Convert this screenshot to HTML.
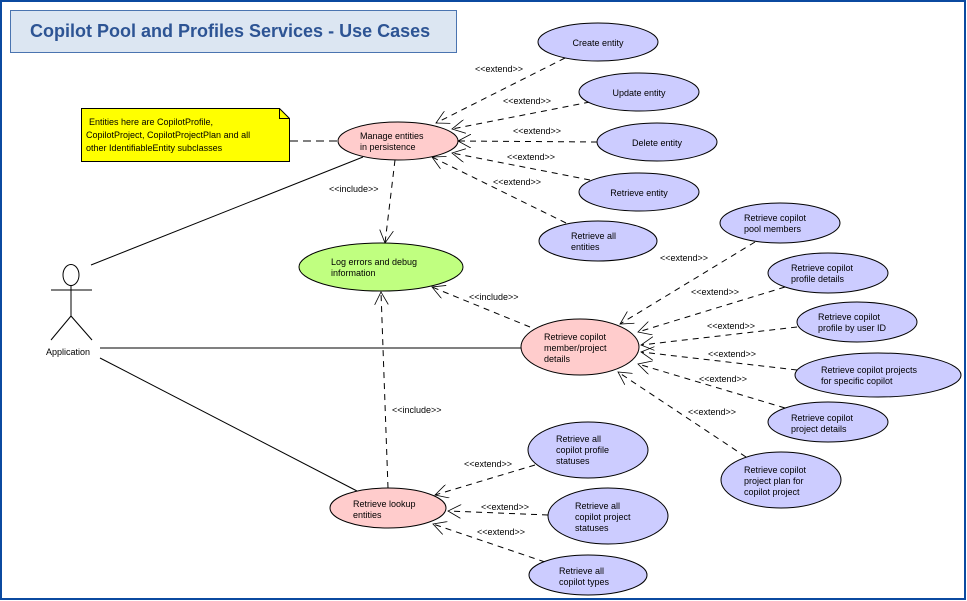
<!DOCTYPE html>
<html><head><meta charset="utf-8"><style>
html,body{margin:0;padding:0;background:#fff}
svg{display:block}
text{font-family:"Liberation Sans",sans-serif;font-size:9px;fill:#000}
</style></head><body>
<svg width="967" height="601" viewBox="0 0 967 601" xmlns="http://www.w3.org/2000/svg">
<defs>
<marker id="a" markerWidth="14" markerHeight="14" refX="13" refY="7" orient="auto" markerUnits="userSpaceOnUse">
<path d="M0,0 L13,7 L0,14" fill="none" stroke="#000" stroke-width="0.8"/>
</marker>
</defs>
<rect x="0" y="0" width="967" height="601" fill="#fff"/>
<rect x="1" y="1" width="964" height="598" fill="none" stroke="#0b4aa0" stroke-width="2"/>
<rect x="10.5" y="10.5" width="446" height="42" fill="#dce6f2" stroke="#4a74b0"/>
<text x="30" y="37" style="font-size:18px;font-weight:bold;fill:#2d5494">Copilot Pool and Profiles Services - Use Cases</text>

<!-- note -->
<path d="M81.5,108.5 H279.5 L289.5,118.5 V161.5 H81.5 Z" fill="#ffff00" stroke="#000"/>
<path d="M279.5,108.5 V118.5 H289.5" fill="none" stroke="#000"/>
<text x="89" y="125">Entities here are CopilotProfile,</text>
<text x="86" y="138">CopilotProject, CopilotProjectPlan and all</text>
<text x="86" y="151">other IdentifiableEntity subclasses</text>
<line x1="290" y1="141" x2="339" y2="141" stroke="#000" stroke-dasharray="8,5"/>

<g stroke="#000" fill="none">
<!-- actor -->
<ellipse cx="71" cy="275" rx="8" ry="10.5" fill="#fff"/>
<line x1="51" y1="290" x2="92" y2="290"/>
<line x1="71" y1="286" x2="71" y2="316"/>
<line x1="71" y1="316" x2="51" y2="340"/>
<line x1="71" y1="316" x2="92" y2="340"/>
<!-- associations -->
<line x1="91" y1="265" x2="363" y2="157"/>
<line x1="100" y1="348" x2="521" y2="348"/>
<line x1="100" y1="358" x2="357" y2="491"/>

<g stroke-dasharray="6,5" marker-end="url(#a)">
<!-- includes -->
<line x1="395" y1="160" x2="385" y2="243"/>
<line x1="530" y1="327" x2="432" y2="287"/>
<line x1="388" y1="488" x2="381" y2="292"/>
<!-- manage extends -->
<line x1="565" y1="58" x2="436" y2="123"/>
<line x1="590" y1="102" x2="452" y2="129"/>
<line x1="597" y1="142" x2="458" y2="141"/>
<line x1="590" y1="180" x2="452" y2="153"/>
<line x1="566" y1="223" x2="432" y2="157"/>
<!-- member extends -->
<line x1="755" y1="242" x2="620" y2="324"/>
<line x1="785" y1="287" x2="638" y2="332"/>
<line x1="797" y1="327" x2="641" y2="345"/>
<line x1="797" y1="370" x2="641" y2="352"/>
<line x1="785" y1="408" x2="638" y2="364"/>
<line x1="746" y1="457" x2="618" y2="372"/>
<!-- lookup extends -->
<line x1="535" y1="465" x2="435" y2="495"/>
<line x1="548" y1="515" x2="448" y2="511"/>
<line x1="545" y1="562" x2="433" y2="524"/>
</g>
</g>

<!-- pink ellipses -->
<g stroke="#000" fill="#ffcccc">
<ellipse cx="398" cy="141" rx="60" ry="19"/>
<ellipse cx="580" cy="347" rx="59" ry="28"/>
<ellipse cx="388" cy="508" rx="58" ry="20"/>
</g>
<ellipse cx="381" cy="267" rx="82" ry="24" fill="#c0ff80" stroke="#000"/>
<!-- blue ellipses -->
<g stroke="#000" fill="#ccccff">
<ellipse cx="598" cy="42" rx="60" ry="19"/>
<ellipse cx="639" cy="92" rx="60" ry="19"/>
<ellipse cx="657" cy="142" rx="60" ry="19"/>
<ellipse cx="639" cy="192" rx="60" ry="19"/>
<ellipse cx="598" cy="241" rx="59" ry="20"/>
<ellipse cx="780" cy="223" rx="60" ry="20"/>
<ellipse cx="828" cy="273" rx="60" ry="20"/>
<ellipse cx="857" cy="322" rx="60" ry="20"/>
<ellipse cx="878" cy="375" rx="83" ry="22"/>
<ellipse cx="828" cy="422" rx="60" ry="20"/>
<ellipse cx="781" cy="480" rx="60" ry="28"/>
<ellipse cx="588" cy="450" rx="60" ry="28"/>
<ellipse cx="608" cy="516" rx="60" ry="28"/>
<ellipse cx="588" cy="575" rx="59" ry="20"/>
</g>

<!-- labels -->
<text x="68" y="355" text-anchor="middle">Application</text>
<text x="360" y="139">Manage entities</text>
<text x="360" y="150">in persistence</text>
<text x="331" y="265">Log errors and debug</text>
<text x="331" y="276">information</text>
<text x="544" y="340">Retrieve copilot</text>
<text x="544" y="351">member/project</text>
<text x="544" y="362">details</text>
<text x="353" y="507">Retrieve lookup</text>
<text x="353" y="518">entities</text>

<text x="598" y="46" text-anchor="middle">Create entity</text>
<text x="639" y="96" text-anchor="middle">Update entity</text>
<text x="657" y="146" text-anchor="middle">Delete entity</text>
<text x="639" y="196" text-anchor="middle">Retrieve entity</text>
<text x="571" y="239">Retrieve all</text>
<text x="571" y="250">entities</text>
<text x="744" y="221">Retrieve copilot</text>
<text x="744" y="232">pool members</text>
<text x="791" y="271">Retrieve copilot</text>
<text x="791" y="282">profile details</text>
<text x="818" y="320">Retrieve copilot</text>
<text x="818" y="331">profile by user ID</text>
<text x="821" y="373">Retrieve copilot projects</text>
<text x="821" y="384">for specific copilot</text>
<text x="791" y="421">Retrieve copilot</text>
<text x="791" y="432">project details</text>
<text x="744" y="473">Retrieve copilot</text>
<text x="744" y="484">project plan for</text>
<text x="744" y="495">copilot project</text>
<text x="556" y="442">Retrieve all</text>
<text x="556" y="453">copilot profile</text>
<text x="556" y="464">statuses</text>
<text x="575" y="509">Retrieve all</text>
<text x="575" y="520">copilot project</text>
<text x="575" y="531">statuses</text>
<text x="559" y="574">Retrieve all</text>
<text x="559" y="585">copilot types</text>

<text x="475" y="72">&lt;&lt;extend&gt;&gt;</text>
<text x="503" y="104">&lt;&lt;extend&gt;&gt;</text>
<text x="513" y="134">&lt;&lt;extend&gt;&gt;</text>
<text x="507" y="160">&lt;&lt;extend&gt;&gt;</text>
<text x="493" y="185">&lt;&lt;extend&gt;&gt;</text>
<text x="329" y="192">&lt;&lt;include&gt;&gt;</text>
<text x="469" y="300">&lt;&lt;include&gt;&gt;</text>
<text x="392" y="413">&lt;&lt;include&gt;&gt;</text>
<text x="660" y="261">&lt;&lt;extend&gt;&gt;</text>
<text x="691" y="295">&lt;&lt;extend&gt;&gt;</text>
<text x="707" y="329">&lt;&lt;extend&gt;&gt;</text>
<text x="708" y="357">&lt;&lt;extend&gt;&gt;</text>
<text x="699" y="382">&lt;&lt;extend&gt;&gt;</text>
<text x="688" y="415">&lt;&lt;extend&gt;&gt;</text>
<text x="464" y="467">&lt;&lt;extend&gt;&gt;</text>
<text x="481" y="510">&lt;&lt;extend&gt;&gt;</text>
<text x="477" y="535">&lt;&lt;extend&gt;&gt;</text>
</svg>
</body></html>
